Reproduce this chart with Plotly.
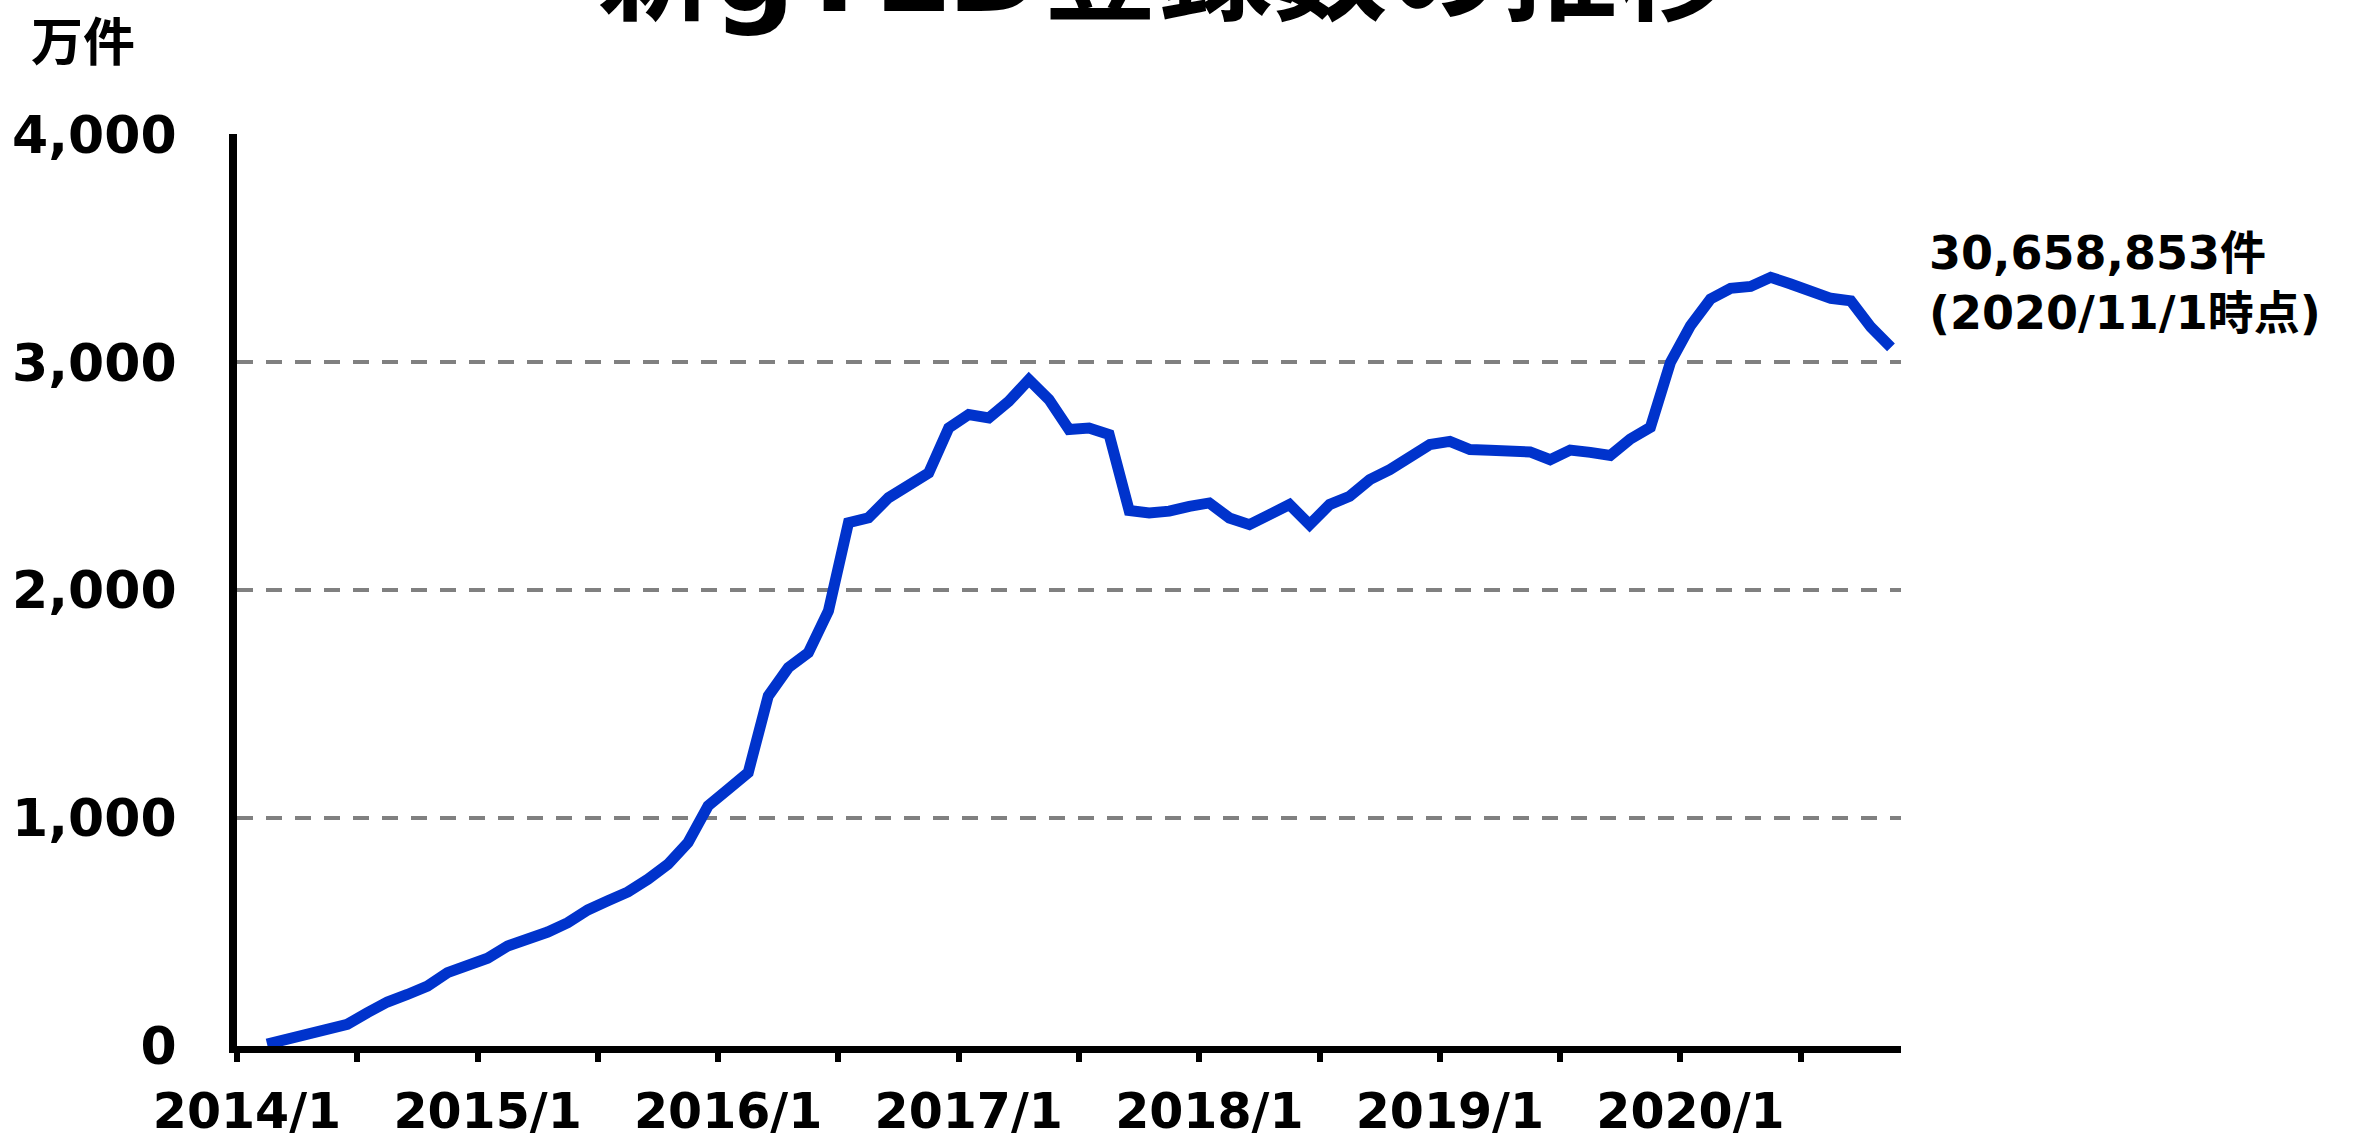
import plotly.graph_objects as go

# Monthly categories 2014/1 .. 2020/11
months = [f"{y}/{m}" for y in range(2014, 2021) for m in range(1, 13)][:83]

# Registrations in 万件 (first month has no data point)
registrations = [
    None, 8, 30, 50, 72, 95, 146, 193, 226, 263, 322, 351,
    385, 439, 468, 500, 541, 597, 637, 676, 732, 798, 893, 1054,
    1127, 1200, 1536, 1660, 1726, 1909, 2296, 2318, 2406, 2464, 2515, 2712,
    2771, 2756, 2829, 2924, 2837, 2705, 2712, 2683, 2350, 2339, 2347, 2368,
    2383, 2317, 2288, 2332, 2376, 2288, 2376, 2412, 2485, 2529, 2580, 2639,
    2653, 2617, 2614, 2610, 2607, 2573, 2615, 2605, 2591, 2664, 2715, 3000,
    3161, 3278, 3325, 3333, 3373, 3344, 3314, 3281, 3270, 3154, 3066,
]

label_months = ["2014/1", "2015/1", "2016/1", "2017/1", "2018/1", "2019/1", "2020/1"]
half_year_boundaries = [6 * k - 0.5 for k in range(14)]  # tick marks between categories
y_ticks = [0, 1000, 2000, 3000, 4000]
y_ticktext = ["0", "1,000", "2,000", "3,000", "4,000"]

title_text = "新gTLD登録数の推移"
unit_text = "万件"
note_text = "30,658,853件<br>(2020/11/1時点)"

FONT = "DejaVu Sans, Noto Sans CJK JP"
n = len(months)

fig = go.Figure()
fig.add_trace(go.Scatter(
    x=months, y=registrations, mode="lines",
    line=dict(color="#0033CC", width=11),
    xaxis="x", yaxis="y", hoverinfo="x+y", showlegend=False,
))
# invisible trace carrying the tick-mark axis
fig.add_trace(go.Scatter(
    x=[-0.5, n - 0.5], y=[None, None], mode="lines",
    xaxis="x2", yaxis="y", showlegend=False, hoverinfo="skip",
))

fig.update_layout(
    width=2366, height=1140,
    margin=dict(l=237, r=465, t=134, b=94, autoexpand=False),
    paper_bgcolor="white", plot_bgcolor="white",
    font=dict(family=FONT, color="black"),
    xaxis=dict(
        type="category", categoryorder="array", categoryarray=months,
        range=[-0.5, n - 0.5], automargin=False,
        tickmode="array", tickvals=label_months, ticktext=label_months,
        ticks="", showgrid=False, zeroline=False,
        showline=True, linecolor="black", linewidth=7,
        tickfont=dict(family=FONT, size=49, color="black", weight="bold"),
        ticklabelstandoff=16,
    ),
    xaxis2=dict(
        type="linear", range=[-0.5, n - 0.5], overlaying="x", anchor="y", side="bottom",
        automargin=False, tickmode="array", tickvals=half_year_boundaries,
        ticks="outside", ticklen=15, tickwidth=6, tickcolor="black",
        showticklabels=False, showgrid=False, zeroline=False, showline=False,
    ),
    yaxis=dict(
        range=[0, 4002], automargin=False,
        tickmode="array", tickvals=y_ticks, ticktext=y_ticktext,
        ticks="", showgrid=True, gridcolor="#808080", gridwidth=4,
        griddash="16px,13px", zeroline=False,
        showline=True, linecolor="black", linewidth=8,
        tickfont=dict(family=FONT, size=52, color="black", weight="bold"),
        ticklabelstandoff=42,
    ),
    annotations=[
        dict(text=title_text, xref="paper", yref="paper", x=0.5577, y=1.1785,
             xanchor="center", yanchor="middle", showarrow=False,
             font=dict(family=FONT, size=115, color="black", weight="bold")),
        dict(text=unit_text, xref="paper", yref="paper", x=-0.0925, y=1.105,
             xanchor="center", yanchor="middle", showarrow=False,
             font=dict(family="Noto Sans CJK JP", size=52, color="black", weight="bold")),
        dict(text=note_text, xref="paper", yref="paper", x=1.0156, y=0.8366,
             xanchor="left", yanchor="middle", align="left", showarrow=False,
             font=dict(family=FONT, size=46, color="black", weight="bold")),
    ],
)

fig.write_html("out.html", config={"displayModeBar": False},
               post_script="document.body.style.margin='0';")
